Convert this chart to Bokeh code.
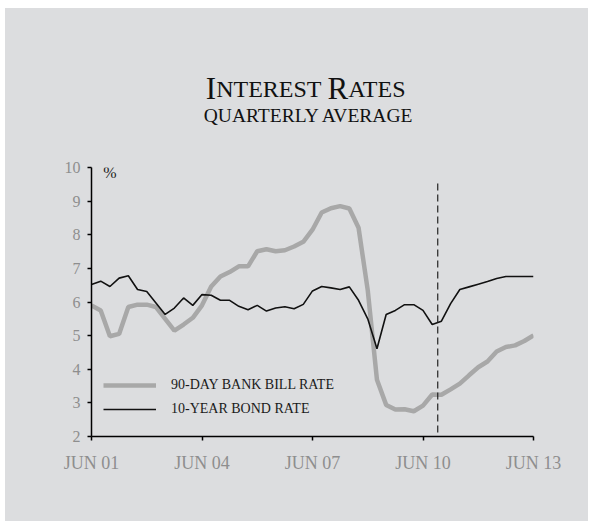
from bokeh.plotting import figure
from bokeh.layouts import column
from bokeh.models import Label, Legend, LegendItem, FixedTicker, Range1d
from bokeh.core.properties import value
from bokeh.embed import file_html
from bokeh.resources import INLINE

# Quarterly averages, June 2001 (quarter 0) to June 2013 (quarter 48)
quarters = list(range(49))

bank_bill = [5.90, 5.75, 4.98, 5.05, 5.85, 5.92, 5.92, 5.85, 5.50, 5.15,
             5.33, 5.53, 5.90, 6.46, 6.76, 6.89, 7.06, 7.06, 7.51, 7.57,
             7.51, 7.54, 7.65, 7.79, 8.15, 8.66, 8.79, 8.85, 8.78, 8.21,
             6.35, 3.69, 2.94, 2.80, 2.81, 2.75, 2.92, 3.25, 3.24, 3.40,
             3.57, 3.82, 4.06, 4.23, 4.53, 4.66, 4.71, 4.84, 5.01]

bond = [6.52, 6.62, 6.46, 6.71, 6.78, 6.37, 6.31, 5.97, 5.63, 5.82,
        6.12, 5.90, 6.22, 6.20, 6.05, 6.05, 5.87, 5.77, 5.90, 5.73,
        5.82, 5.86, 5.80, 5.93, 6.33, 6.46, 6.42, 6.37, 6.45, 6.05,
        5.50, 4.61, 5.63, 5.75, 5.92, 5.92, 5.75, 5.33, 5.43, 5.95,
        6.37, 6.45, 6.53, 6.61, 6.70, 6.76, 6.76, 6.76, 6.76]

tick_quarters = [0, 12, 24, 36, 48]
tick_labels = ["JUN 01", "JUN 04", "JUN 07", "JUN 10", "JUN 13"]
y_ticks = [2, 3, 4, 5, 6, 7, 8, 9, 10]

# Start of the forecast period (in quarters) and the extent of its marker line
forecast_start = 37.6
forecast_marker = [2.12, 9.55]

BG = "#dcdddf"
SERIF = "Liberation Serif"
W = 583
HEAD_H = 130
LEFT, RIGHT = 86, 55          # borders shared by both panels so frames line up

# ---- heading panel: title set in small capitals (coordinates in pixels) ----
head = figure(width=W, height=HEAD_H, output_backend="svg", toolbar_location=None,
              title=None,
              x_range=Range1d(LEFT, W - RIGHT), y_range=Range1d(0, HEAD_H),
              min_border_left=LEFT, min_border_right=RIGHT,
              min_border_top=0, min_border_bottom=0,
              background_fill_color=BG, border_fill_color=BG)
head.axis.visible = False
head.grid.visible = False
head.outline_line_color = None

title_pieces = [("I", 31), ("NTEREST", 24), (" ", 24), ("R", 31), ("ATES", 24)]
adv = {"I": .333, "N": .722, "T": .611, "E": .611, "R": .667, "S": .556,
       "A": .722, " ": .25}
widths = [sum(adv[c] for c in t) * s for t, s in title_pieces]
x0 = 301.5 - sum(widths) / 2
for (t, s), w in zip(title_pieces, widths):
    if t.strip():
        head.text(x=[x0], y=[50], text=[t], text_font=value(SERIF),
                  text_font_size=f"{s}px", text_color="#111111",
                  text_align="left", text_baseline="alphabetic")
    x0 += w

head.text(x=[303.5], y=[23], text=["QUARTERLY AVERAGE"], text_font=value(SERIF),
          text_font_size="19.5px", text_color="#111111",
          text_align="center", text_baseline="alphabetic")

# ---- chart ----
p = figure(width=W, height=513 - HEAD_H, output_backend="svg", toolbar_location=None,
           x_range=Range1d(0, 48), y_range=Range1d(2, 10),
           min_border_left=LEFT, min_border_right=RIGHT,
           min_border_top=29, min_border_bottom=85,
           background_fill_color=BG, border_fill_color=BG)
p.outline_line_color = None
p.xgrid.visible = False
p.ygrid.visible = False

for ax in (p.xaxis[0], p.yaxis[0]):
    ax.axis_line_color = "black"
    ax.axis_line_width = 1.5
    ax.major_tick_line_color = "black"
    ax.major_tick_line_width = 1.5
    ax.major_tick_in = 0
    ax.major_tick_out = 4
    ax.minor_tick_line_color = None
    ax.major_label_text_font = SERIF
    ax.major_label_text_color = "#8e8e8e"

p.xaxis.ticker = FixedTicker(ticks=tick_quarters)
p.xaxis.major_label_overrides = {q: t for q, t in zip(tick_quarters, tick_labels)}
p.xaxis.major_label_text_font_size = "18px"
p.xaxis.major_label_standoff = 12

p.yaxis.ticker = FixedTicker(ticks=y_ticks)
p.yaxis.major_label_text_font_size = "16px"
p.yaxis.major_label_standoff = 7

# Series
r_bill = p.line(quarters, bank_bill, line_color="#a8a8a8", line_width=4.5)
r_bond = p.line(quarters, bond, line_color="#111111", line_width=1.6)

# Forecast marker
p.line([forecast_start, forecast_start], forecast_marker, line_color="#222222",
       line_width=1.2, line_dash="7 4")

# Unit label
p.add_layout(Label(x=2.0, y=9.84, text="%", text_font=SERIF, text_font_size="16px",
                   text_color="#222222", text_align="center", text_baseline="middle"))

legend = Legend(items=[LegendItem(label="90-DAY BANK BILL RATE", renderers=[r_bill]),
                       LegendItem(label="10-YEAR BOND RATE", renderers=[r_bond])],
                location=(12, 17), orientation="vertical",
                background_fill_alpha=0, border_line_color=None,
                padding=10, margin=0, spacing=4,
                glyph_width=53, glyph_height=20, label_height=20,
                label_standoff=15,
                label_text_font=SERIF, label_text_font_size="14px",
                label_text_color="#1a1a1a")
p.add_layout(legend)

page = column(head, p, spacing=0)
page.margin = (8, 5, 8, 5)
page.styles = {"background-color": BG}

open("out.html", "w").write(file_html(page, INLINE))
